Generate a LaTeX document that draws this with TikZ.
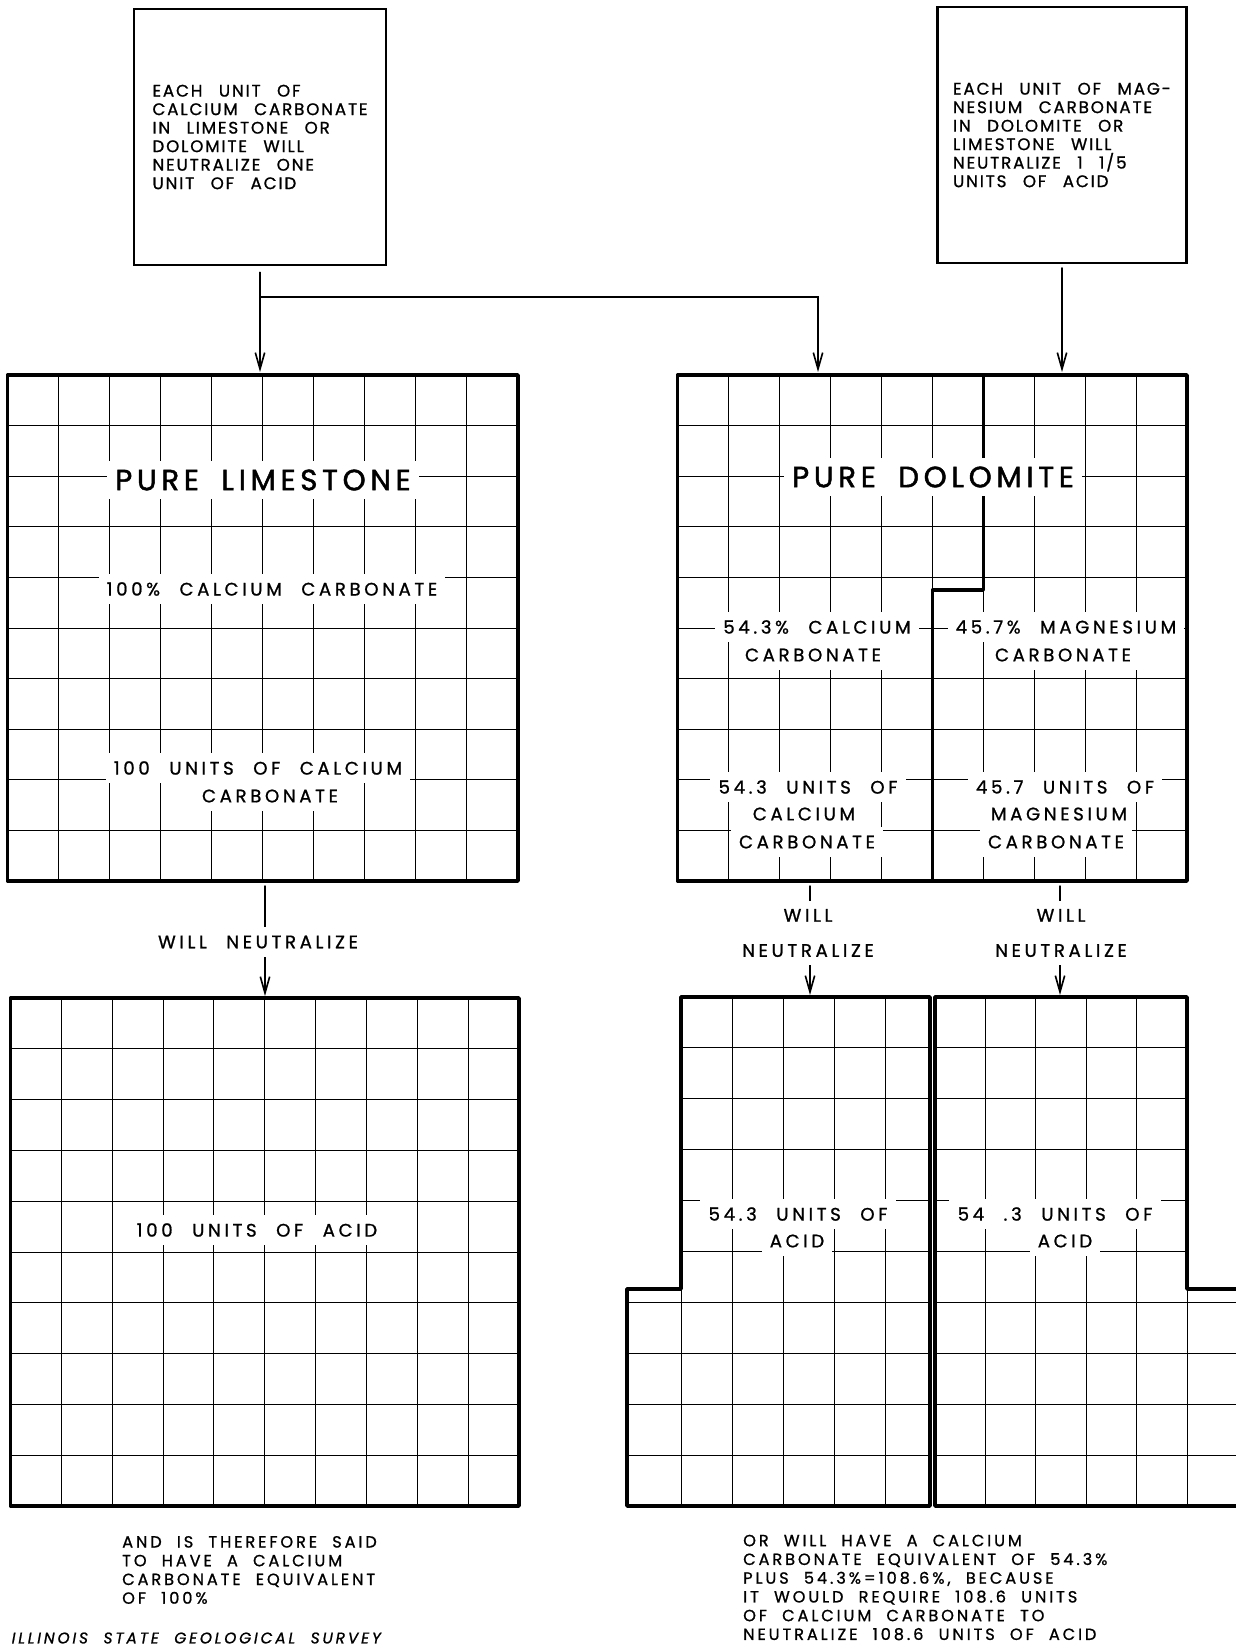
\documentclass[tikz,border=0pt]{standalone}
\usepackage{fontspec}
\setmainfont{Poppins}[LetterSpace=20,WordSpace=2.3,FakeBold=1]
\newfontfamily\boxfont{Poppins}[LetterSpace=11,WordSpace=2.6,FakeBold=1]
\newfontfamily\notefont{Poppins}[LetterSpace=18,WordSpace=2.1,FakeBold=1]
\newfontfamily\titlefont{Poppins}[LetterSpace=16,WordSpace=1.8,FakeBold=1.6]
\usetikzlibrary{arrows.meta}

\tikzset{
  frame/.style={line width=3pt,line join=round},
  cellline/.style={line width=0.8pt},
  divider/.style={line width=2.6pt,line join=round},
  txtbox/.style={draw,line width=2.4pt,align=left,font=\boxfont\fontsize{14.3}{15.8}\selectfont},
  lbl/.style={fill=white,inner xsep=7pt,inner ysep=7pt,font=\fontsize{15.5}{18}\selectfont},
  title/.style={lbl,font=\titlefont\fontsize{25}{30}\selectfont},
  note/.style={align=left,anchor=west,inner sep=0pt,font=\notefont\fontsize{13.8}{16}\selectfont},
  arr/.style={line width=1.2pt,-{Straight Barb[length=14pt,width=8pt,line width=1.4pt]}},
}

\begin{document}
\begin{tikzpicture}[x=0.03cm,y=-0.03cm,line cap=round]
\useasboundingbox (0,0) rectangle (1236,1647);

% statement boxes
\node[txtbox,minimum width=7.56cm,minimum height=7.68cm] (cabox) at (260,137)
  {EACH UNIT OF\\CALCIUM CARBONATE\\IN LIMESTONE OR\\DOLOMITE WILL\\NEUTRALIZE ONE\\UNIT OF ACID};
\node[txtbox,minimum width=7.49cm,minimum height=7.68cm] (mgbox) at (1062,135)
  {EACH UNIT OF MAG-\\NESIUM CARBONATE\\IN DOLOMITE OR\\LIMESTONE WILL\\NEUTRALIZE 1 1/5\\UNITS OF ACID};

\coordinate (fork) at (260,297);
\coordinate (lime-in) at (260,372);
\coordinate (dolo-ca) at (818,372);
\coordinate (dolo-mg) at (1062,372);
\draw[arr,shorten <=5pt] (cabox.south) -- (lime-in);
\draw[arr] (fork) -| (dolo-ca);
\draw[arr,shorten <=3pt] (mgbox.south) -- (dolo-mg);

% pure limestone
\foreach \k in {1,...,9} {
  \draw[cellline] (7.6+\k*51.04,375) -- (7.6+\k*51.04,881);
  \draw[cellline] (7.6,375+\k*50.6) -- (518,375+\k*50.6);
}
\node[title] (limename) at (263,480) {PURE LIMESTONE};
\node[lbl] (limepct) at (272,589) {100\% CALCIUM CARBONATE};
\node[lbl] (limeunits) at (258,768) {100 UNITS OF CALCIUM};
\node[lbl] (limeunits2) at (270,796) {CARBONATE};
\draw[frame] (7.6,375) rectangle (518,881);

% pure dolomite
\foreach \k in {1,...,9} {
  \draw[cellline] (677.6+\k*50.96,375) -- (677.6+\k*50.96,881);
  \draw[cellline] (677.6,375+\k*50.6) -- (1187,375+\k*50.6);
}
\draw[divider] (983.4,375) |- (932.4,590) -- (932.4,881);
\node[title] (doloname) at (933,477) {PURE DOLOMITE};
\node[lbl] (capct) at (817,627) {54.3\% CALCIUM};
\node[lbl] (capct2) at (813,655) {CARBONATE};
\node[lbl] (mgpct) at (1066,627) {45.7\% MAGNESIUM};
\node[lbl] (mgpct2) at (1063,655) {CARBONATE};
\node[lbl] (caunits) at (808,787) {54.3 UNITS OF};
\node[lbl] (caunits2) at (804,814) {CALCIUM};
\node[lbl] (caunits3) at (807,842) {CARBONATE};
\node[lbl] (mgunits) at (1065,787) {45.7 UNITS OF};
\node[lbl] (mgunits2) at (1059,814) {MAGNESIUM};
\node[lbl] (mgunits3) at (1056,842) {CARBONATE};
\draw[frame] (677.6,375) rectangle (1187,881);

% will neutralize
\coordinate (lime-out) at (265,886);
\coordinate (acid-in) at (265,996);
\coordinate (ca-out) at (810,886);
\coordinate (ca-acid) at (810,995);
\coordinate (mg-out) at (1060,886);
\coordinate (mg-acid) at (1060,995);
\draw[arr] (lime-out) -- (acid-in);
\draw[arr] (ca-out) -- (ca-acid);
\draw[arr] (mg-out) -- (mg-acid);
\node[lbl] (wnlime) at (258,942) {WILL NEUTRALIZE};
\node[lbl,align=center] (wnca) at (808,933) {WILL\\[12pt]NEUTRALIZE};
\node[lbl,align=center] (wnmg) at (1061,933) {WILL\\[12pt]NEUTRALIZE};

% acid, limestone side
\foreach \k in {1,...,9} {
  \draw[cellline] (10.5+\k*50.85,998) -- (10.5+\k*50.85,1506);
  \draw[cellline] (10.5,998+\k*50.8) -- (519,998+\k*50.8);
}
\node[lbl] (acid100) at (257,1230) {100 UNITS OF ACID};
\draw[frame] (10.5,998) rectangle (519,1506);

% acid, dolomite side
\foreach \k in {1,...,4} {
  \draw[cellline] (681+\k*51,997) -- (681+\k*51,1506);
  \draw[cellline] (935+\k*50.4,997) -- (935+\k*50.4,1506);
}
\draw[cellline] (681,1289) -- (681,1506);
\draw[cellline] (1187,1289) -- (1187,1506);
\foreach \j in {1,...,5} {
  \draw[cellline] (681,997+\j*50.9) -- (930,997+\j*50.9);
  \draw[cellline] (935,997+\j*50.9) -- (1187,997+\j*50.9);
}
\foreach \j in {6,...,9} {
  \draw[cellline] (627,997+\j*50.9) -- (930,997+\j*50.9);
  \draw[cellline] (935,997+\j*50.9) -- (1240,997+\j*50.9);
}
\node[lbl] (acidca) at (798,1214) {54.3 UNITS OF};
\node[lbl] (acidca2) at (797,1241) {ACID};
\node[lbl] (acidmg) at (1055,1214) {54 .3 UNITS OF};
\node[lbl] (acidmg2) at (1065,1241) {ACID};
\draw[frame] (681,997) -- (930,997) -- (930,1506) -- (627,1506) -- (627,1289) -- (681,1289) -- cycle;
\draw[frame] (935,997) -- (1187,997) -- (1187,1289) -- (1240,1289) -- (1240,1506) -- (935,1506) -- cycle;

% conclusions
\node[note] (limenote) at (122,1570)
  {AND IS THEREFORE SAID\\TO HAVE A CALCIUM\\CARBONATE EQUIVALENT\\OF 100\%};
\node[note] (dolonote) at (743,1587.5)
  {OR WILL HAVE A CALCIUM\\CARBONATE EQUIVALENT OF 54.3\%\\PLUS 54.3\%=108.6\%, BECAUSE\\IT WOULD REQUIRE 108.6 UNITS\\OF CALCIUM CARBONATE TO\\NEUTRALIZE 108.6 UNITS OF ACID};
\node[note,font=\notefont\fontsize{13.2}{16}\selectfont\itshape] (survey) at (11.5,1638) {ILLINOIS STATE GEOLOGICAL SURVEY};
\end{tikzpicture}
\end{document}
